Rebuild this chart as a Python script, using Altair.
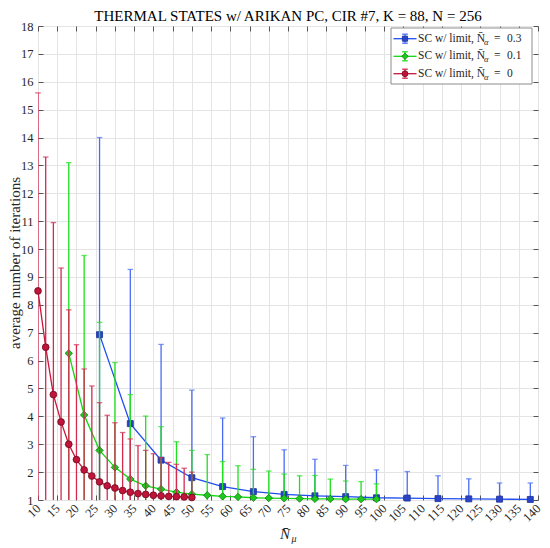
import altair as alt
import pandas as pd

# ---------------- data ----------------
red_x = [10, 12, 14, 16, 18, 20, 22, 24, 26, 28, 30, 32, 34, 36, 38, 40, 42, 44, 46, 48, 50]
red_y = [8.5, 6.48, 4.78, 3.80, 3.00, 2.45, 2.08, 1.86, 1.65, 1.51, 1.43, 1.34, 1.28,
         1.23, 1.20, 1.17, 1.15, 1.13, 1.12, 1.11, 1.09]
red_up = [15.6, 13.3, 10.95, 9.32, 7.82, 6.57, 5.70, 5.09, 4.49, 4.04, 3.77, 3.42, 3.19,
          2.95, 2.78, 2.66, 2.52, 2.35, 2.28, 2.14, 2.00]

green_x = [18, 22, 26, 30, 34, 38, 42, 46, 50, 54, 58, 62, 66, 70, 74, 78, 82, 86, 90, 94, 98]
green_y = [6.26, 4.05, 2.78, 2.17, 1.75, 1.51, 1.39, 1.28, 1.21, 1.17, 1.13, 1.11, 1.08,
           1.07, 1.06, 1.05, 1.04, 1.04, 1.03, 1.03, 1.03]
green_up = [13.1, 9.77, 7.37, 5.93, 4.78, 4.01, 3.63, 3.09, 2.78, 2.63, 2.38, 2.23, 2.10,
            2.04, 1.93, 1.87, 1.88, 1.75, 1.68, 1.66, 1.58]

blue_x = [26, 34, 42, 50, 58, 66, 74, 82, 90, 98, 106, 114, 122, 130, 138]
blue_y = [6.93, 3.74, 2.43, 1.80, 1.48, 1.30, 1.20, 1.15, 1.12, 1.08, 1.07, 1.05, 1.04, 1.03, 1.02]
blue_up = [14.0, 9.27, 6.58, 4.94, 3.94, 3.27, 2.80, 2.46, 2.24, 2.08, 2.02, 1.87, 1.76, 1.61, 1.61]

x_ticks = list(range(10, 141, 5))
y_ticks = list(range(1, 19))

legend_values = ["0.3", "0.1", "0"]
title_text = "THERMAL STATES w/ ARIKAN PC, CIR #7, K = 88, N = 256"
y_title = "average number of iterations"

# ---------------- styling ----------------
W, H = 500, 474
FONT = "Liberation Serif"
TXT = "#262626"

xs = alt.Scale(domain=[10, 140], nice=False, zero=False)
ys = alt.Scale(domain=[1, 18], nice=False, zero=False)

styles = [
    # (line, bar, shape, fill, edge, size)
    ("#1f4df0", "#4a6cf5", "square", "#2a44c8", "#1a2f9a", 36),
    ("#12d612", "#1ee01e", "diamond", "#1ec81e", "#0b7d0b", 55),
    ("#c8163c", "#d32a50", "circle", "#c0143a", "#6e0a1e", 46),
]
series = [
    pd.DataFrame({"x": blue_x, "y": blue_y, "up": blue_up}),
    pd.DataFrame({"x": green_x, "y": green_y, "up": green_up}),
    pd.DataFrame({"x": red_x, "y": red_y, "up": red_up}),
]

layers = []

# main axes (grid + labels)
axis_base = alt.Chart(series[0]).mark_point(opacity=0).encode(
    x=alt.X("x:Q", scale=xs, axis=alt.Axis(
        values=x_ticks, title=None, grid=True, gridColor="#e4e4e4", gridWidth=1,
        ticks=False, domain=False, labelAngle=315, labelAlign="right",
        labelBaseline="middle", labelPadding=6, labelFont=FONT, labelFontSize=12.5,
        labelColor=TXT, labelOverlap=False)),
    y=alt.Y("y:Q", scale=ys, axis=alt.Axis(
        values=y_ticks, title=None, grid=True, gridColor="#e4e4e4", gridWidth=1,
        ticks=False, domain=False, labelPadding=5, labelFont=FONT, labelFontSize=12.5,
        labelColor=TXT)),
)
layers.append(axis_base)

# inward ticks on all four sides
def tick_layer(xorient, yorient, xoff, yoff):
    return alt.Chart(series[0]).mark_point(opacity=0).encode(
        x=alt.X("x:Q", scale=xs, axis=alt.Axis(
            orient=xorient, offset=xoff, values=x_ticks, labels=False, title=None,
            grid=False, domain=False, ticks=True, tickSize=5, tickColor="#555555")),
        y=alt.Y("y:Q", scale=ys, axis=alt.Axis(
            orient=yorient, offset=yoff, values=y_ticks, labels=False, title=None,
            grid=False, domain=False, ticks=True, tickSize=5, tickColor="#555555")),
    )

layers.append(tick_layer("top", "right", -H, -W))
layers.append(tick_layer("bottom", "left", -H, -W))

for df, (lc, bc, shp, fc, ec, sz) in zip(series, styles):
    base = alt.Chart(df)
    X = alt.X("x:Q", scale=xs, axis=None)
    layers.append(base.mark_rule(color=bc, strokeWidth=1.3, clip=True).encode(
        x=X, y=alt.Y("up:Q", scale=ys, axis=None), y2=alt.datum(1)))
    layers.append(base.mark_tick(color=bc, orient="horizontal", size=5.5, thickness=1.3).encode(
        x=X, y=alt.Y("up:Q", scale=ys, axis=None)))
    layers.append(base.mark_line(color=lc, strokeWidth=1.3).encode(
        x=X, y=alt.Y("y:Q", scale=ys, axis=None)))
    layers.append(base.mark_point(shape=shp, filled=True, fill=fc, stroke=ec,
                                  strokeWidth=0.8, size=sz, opacity=1).encode(
        x=X, y=alt.Y("y:Q", scale=ys, axis=None)))

# ---------------- manual legend ----------------
one = pd.DataFrame({"a": [0]})
layers.append(alt.Chart(one).mark_rect(fill="white", stroke="#8c8c8c", strokeWidth=1).encode(
    x=alt.value(353), x2=alt.value(494), y=alt.value(2), y2=alt.value(58)))
row_y = [12.7, 30.3, 47.7]
for (lc, bc, shp, fc, ec, sz), val, ry in zip(styles, legend_values, row_y):
    layers.append(alt.Chart(one).mark_rule(color=lc, strokeWidth=1.3).encode(
        x=alt.value(355.5), x2=alt.value(378.5), y=alt.value(ry)))
    layers.append(alt.Chart(one).mark_rule(color=bc, strokeWidth=1.2).encode(
        x=alt.value(367), y=alt.value(ry - 4.5), y2=alt.value(ry + 4.5)))
    for cy in (ry - 4.5, ry + 4.5):
        layers.append(alt.Chart(one).mark_rule(color=bc, strokeWidth=1.3).encode(
            x=alt.value(364.2), x2=alt.value(369.8), y=alt.value(cy)))
    layers.append(alt.Chart(one).mark_point(shape=shp, filled=True, fill=fc, stroke=ec,
                                            strokeWidth=0.8, size=sz * 0.75, opacity=1).encode(
        x=alt.value(367), y=alt.value(ry)))
    layers.append(alt.Chart(one).mark_text(align="left", baseline="middle", font=FONT,
                                           fontSize=11.5, color=TXT).encode(
        x=alt.value(380), y=alt.value(ry), text=alt.value("SC w/ limit, N\u0304")))
    layers.append(alt.Chart(one).mark_text(align="left", baseline="middle", font=FONT,
                                           fontSize=8.5, fontStyle="italic", color=TXT).encode(
        x=alt.value(446), y=alt.value(ry + 3), text=alt.value("\u03b1")))
    layers.append(alt.Chart(one).mark_text(align="left", baseline="middle", font=FONT,
                                           fontSize=11.5, color=TXT).encode(
        x=alt.value(456), y=alt.value(ry), text=alt.value("=")))
    layers.append(alt.Chart(one).mark_text(align="left", baseline="middle", font=FONT,
                                           fontSize=11.5, color=TXT).encode(
        x=alt.value(469), y=alt.value(ry), text=alt.value(val)))

# title
layers.append(alt.Chart(one).mark_text(align="center", baseline="alphabetic", font=FONT,
                                       fontSize=15, color="#000000").encode(
    x=alt.value(W / 2), y=alt.value(-5), text=alt.value(title_text)))

# y-axis title
layers.append(alt.Chart(one).mark_text(align="center", baseline="middle", font=FONT,
                                       fontSize=15, angle=270, color=TXT).encode(
    x=alt.value(-23), y=alt.value(H / 2), text=alt.value(y_title)))

# x-axis title  N̄_μ
layers.append(alt.Chart(one).mark_text(align="center", baseline="alphabetic", font=FONT,
                                       fontSize=15, fontStyle="italic", color=TXT).encode(
    x=alt.value(247), y=alt.value(513), text=alt.value("N\u0304")))
layers.append(alt.Chart(one).mark_text(align="left", baseline="alphabetic", font=FONT,
                                       fontSize=10, fontStyle="italic", color=TXT).encode(
    x=alt.value(253.5), y=alt.value(516), text=alt.value("\u03bc")))

chart = alt.layer(*layers).resolve_axis(x="independent", y="independent").properties(
    width=W, height=H,
    autosize=alt.AutoSizeParams(type="none"),
    padding={"left": 30, "top": 18, "right": 4, "bottom": 48},
).configure_view(stroke="#5e5e5e", strokeWidth=1).configure(background="white")

chart.save("out.html", embed_options={"renderer": "svg", "actions": False})
